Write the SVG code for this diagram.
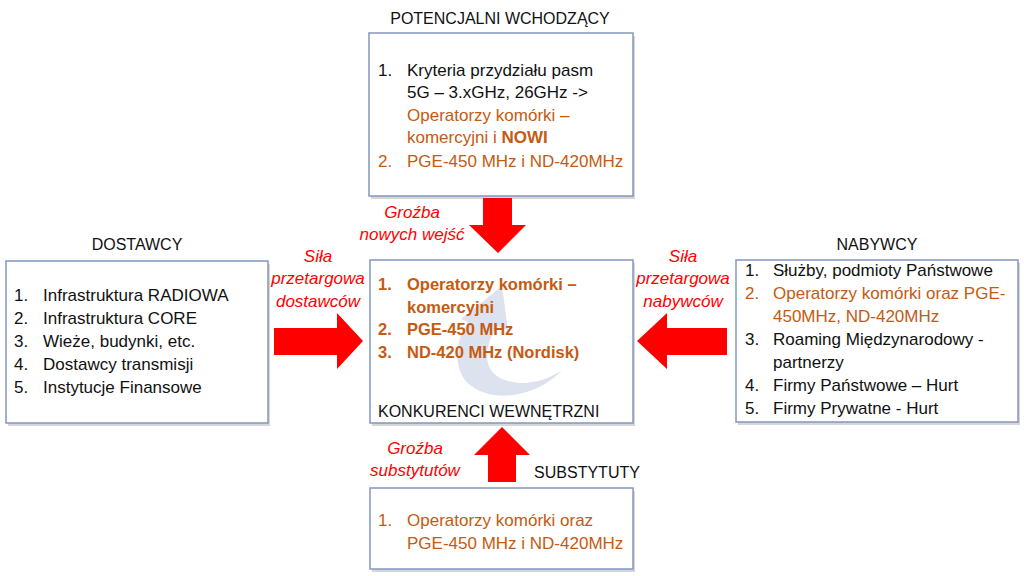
<svg xmlns="http://www.w3.org/2000/svg" width="1024" height="576" viewBox="0 0 1024 576">
<defs>
<style>
text{font-family:"Liberation Sans",Arial,sans-serif;font-size:17px;fill:#111}
.t{font-size:16px;text-anchor:middle}
.o{fill:#C55A11}
.b{font-weight:bold}
.cb{font-weight:bold;font-size:16.5px;fill:#C55A11}
.lab{font-style:italic;fill:#FF0000;text-anchor:middle}
.box{fill:#fff;stroke:#8497C0;stroke-width:1.5}
.sh{fill:#d6d6d6}
.arr{fill:#FF0000}
</style>
</defs>
<rect width="1024" height="576" fill="#fff"/>

<g id="potencjalni">
<text class="t" x="500" y="24">POTENCJALNI WCHODZĄCY</text>
<rect class="sh" x="371" y="36" width="264" height="163"/>
<rect class="box" x="369" y="33" width="264" height="163"/>
<text x="378" y="76">1.</text><text x="407" y="76">Kryteria przydziału pasm</text>
<text x="407" y="98">5G – 3.xGHz, 26GHz -&gt;</text>
<text class="o" x="407" y="121">Operatorzy komórki –</text>
<text class="o" x="407" y="143">komercyjni i <tspan class="b">NOWI</tspan></text>
<text class="o" x="378" y="167">2.</text><text class="o" x="407" y="167">PGE-450 MHz i ND-420MHz</text>
</g>

<g id="konkurenci">
<rect class="sh" x="372" y="263" width="263" height="163"/>
<rect class="box" x="370" y="260" width="263" height="163"/>
<path d="M562 370 C540 395 495 405 470 385 C452 370 455 340 468 322 L461 319 L502 286 L508 330 L498 326 C484 345 482 368 500 378 C520 388 545 382 562 370 Z" fill="#DCE3EF"/>
<text class="cb" x="378" y="290">1.</text><text class="cb" x="407" y="290">Operatorzy komórki –</text>
<text class="cb" x="407" y="313">komercyjni</text>
<text class="cb" x="378" y="335">2.</text><text class="cb" x="407" y="335">PGE-450 MHz</text>
<text class="cb" x="378" y="358">3.</text><text class="cb" x="407" y="358">ND-420 MHz (Nordisk)</text>
<text x="378" y="417" style="font-size:16px">KONKURENCI WEWNĘTRZNI</text>
</g>

<g id="dostawcy">
<text class="t" x="137" y="250">DOSTAWCY</text>
<rect class="sh" x="8" y="264" width="262" height="162"/>
<rect class="box" x="6" y="261" width="262" height="162"/>
<text x="14" y="301">1.</text><text x="43" y="301">Infrastruktura RADIOWA</text>
<text x="14" y="324">2.</text><text x="43" y="324">Infrastruktura CORE</text>
<text x="14" y="347">3.</text><text x="43" y="347">Wieże, budynki, etc.</text>
<text x="14" y="370">4.</text><text x="43" y="370">Dostawcy transmisji</text>
<text x="14" y="393">5.</text><text x="43" y="393">Instytucje Finansowe</text>
</g>

<g id="nabywcy">
<text class="t" x="877" y="250">NABYWCY</text>
<rect class="sh" x="738" y="263" width="282" height="162"/>
<rect class="box" x="736" y="260" width="282" height="162"/>
<text x="745" y="276">1.</text><text x="773" y="276">Służby, podmioty Państwowe</text>
<text class="o" x="745" y="299">2.</text><text class="o" x="773" y="299">Operatorzy komórki oraz PGE-</text>
<text class="o" x="773" y="322">450MHz, ND-420MHz</text>
<text x="745" y="345">3.</text><text x="773" y="345">Roaming Międzynarodowy -</text>
<text x="773" y="368">partnerzy</text>
<text x="745" y="391">4.</text><text x="773" y="391">Firmy Państwowe – Hurt</text>
<text x="745" y="414">5.</text><text x="773" y="414">Firmy Prywatne - Hurt</text>
</g>

<g id="substytuty">
<text class="t" x="587" y="478">SUBSTYTUTY</text>
<rect class="sh" x="372" y="491" width="263" height="81"/>
<rect class="box" x="370" y="488" width="263" height="81"/>
<text class="o" x="378" y="526">1.</text><text class="o" x="407" y="526">Operatorzy komórki oraz</text>
<text class="o" x="407" y="549">PGE-450 MHz i ND-420MHz</text>
</g>

<g id="connectors">
<polygon class="arr" points="483,198 512,198 512,225 526,225 498,253 469,225 483,225"/>
<polygon class="arr" points="274,328 337,328 337,313 363,341 337,369 337,355 274,355"/>
<polygon class="arr" points="727,328 667,328 667,313 637,341 667,369 667,355 727,355"/>
<polygon class="arr" points="488,482 516,482 516,455 530,455 502,427 474,455 488,455"/>
<text class="lab" x="412" y="218">Groźba</text>
<text class="lab" x="412" y="240">nowych wejść</text>
<text class="lab" x="318" y="262">Siła</text>
<text class="lab" x="318" y="284">przetargowa</text>
<text class="lab" x="318" y="307">dostawców</text>
<text class="lab" x="683" y="262">Siła</text>
<text class="lab" x="683" y="284">przetargowa</text>
<text class="lab" x="683" y="307">nabywców</text>
<text class="lab" x="415" y="454">Groźba</text>
<text class="lab" x="415" y="476">substytutów</text>
</g>
</svg>
